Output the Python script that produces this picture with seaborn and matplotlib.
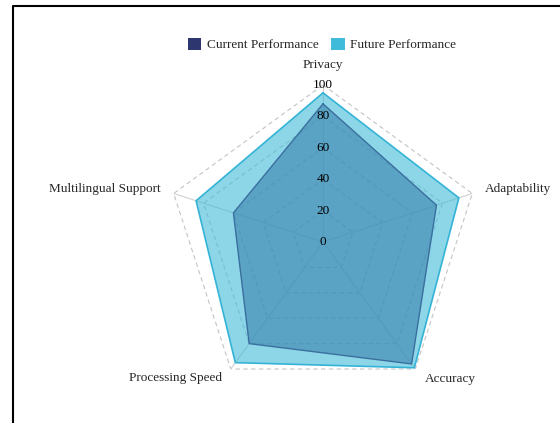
import numpy as np
import matplotlib
matplotlib.use('Agg')
import matplotlib.pyplot as plt
from matplotlib.patches import Patch
from matplotlib.lines import Line2D
import seaborn as sns

# data
categories = ['Privacy', 'Adaptability', 'Accuracy', 'Processing Speed', 'Multilingual Support']
current = [88, 76, 96, 80, 60]
future = [95, 91, 99, 95, 85]
series_names = ['Current Performance', 'Future Performance']
radial_ticks = [0, 20, 40, 60, 80, 100]

sns.set_style('white')
plt.rcParams['font.family'] = ['Liberation Serif', 'DejaVu Serif']

fig = plt.figure(figsize=(5.6, 4.23), dpi=100)
ax = fig.add_axes([166/560, 24/423, 314/560, 314/423], projection='polar')
ax.set_theta_offset(np.pi/2)
ax.set_theta_direction(-1)
ax.set_ylim(0, 100)
ax.grid(False)
ax.spines['polar'].set_visible(False)
ax.set_xticks([])
ax.set_yticks([])
ax.patch.set_alpha(0)

n = len(categories)
theta = np.linspace(0, 2*np.pi, n, endpoint=False)
theta_c = np.append(theta, theta[0])

# pentagon grid
for t in radial_ticks[1:]:
    ax.plot(theta_c, [t]*(n+1), color='#c4c4c4', lw=0.8, ls=(0, (4, 3)), zorder=1)
for th in theta:
    ax.plot([th, th], [0, 100], color='#d0d0d0', lw=0.8, zorder=1)

fut_c = '#40bbd9'
cur_c = '#3a81ac'
fv = np.append(future, future[0])
cv = np.append(current, current[0])
ax.fill(theta_c, fv, color=fut_c, alpha=0.6, zorder=2, lw=0)
ax.plot(theta_c, fv, color='#34b3d6', lw=1.2, zorder=3)
ax.fill(theta_c, cv, color=cur_c, alpha=0.6, zorder=4, lw=0)
ax.plot(theta_c, cv, color='#3a6f9f', lw=1.0, zorder=5)

for t in radial_ticks:
    ax.text(0, t, str(t), ha='center', va='center', fontsize=9.5, color='black', zorder=6)

offsets = [(0, 20, 'center'), (13, 4, 'left'), (10, -10, 'left'), (-9, -9, 'right'), (-13, 4, 'right')]
for th, name, (dx, dy, ha) in zip(theta, categories, offsets):
    ax.annotate(name, xy=(th, 100), xytext=(dx, dy), textcoords='offset pixels',
                ha=ha, va='center', fontsize=9.5, annotation_clip=False)

handles = [Patch(facecolor='#2e3670', edgecolor='none'), Patch(facecolor=fut_c, edgecolor='none')]
fig.legend(handles, series_names, loc='center', bbox_to_anchor=(322/560, 1-44.5/423), ncol=2,
           frameon=False, fontsize=9.5, handlelength=1.0, handleheight=1.0,
           handletextpad=0.4, columnspacing=1.0)

# frame edge visible in the reference
x0 = 12.5/560
y0 = 1 - 6.5/423
fig.add_artist(Line2D([x0, x0, 1], [0, y0, y0], transform=fig.transFigure, color='black', lw=1.5))

fig.savefig('out.png', dpi=100)
